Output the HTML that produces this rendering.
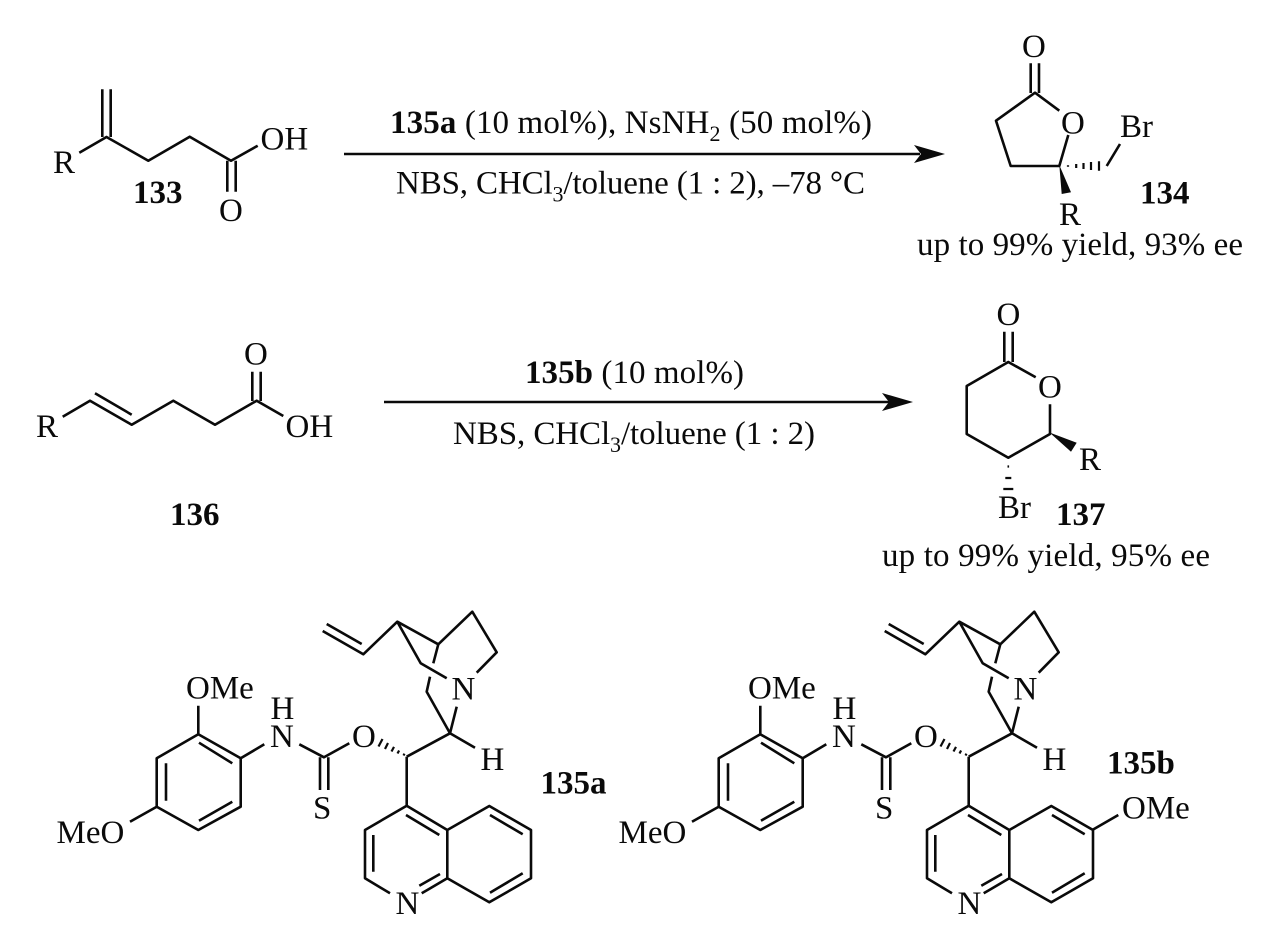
<!DOCTYPE html>
<html><head><meta charset="utf-8"><style>
html,body{margin:0;padding:0;background:#fff;width:1267px;height:926px;overflow:hidden}
svg{display:block}
text{font-family:"Liberation Serif","Times New Roman",serif;font-size:33px;fill:#0a0a0a}
.b{font-weight:bold}
path,line{stroke:#0a0a0a;stroke-width:2.6;fill:none;stroke-linejoin:round}
.f{fill:#0a0a0a;stroke:none}
.s{font-size:22px}
</style></head><body>
<svg width="1267" height="926" viewBox="0 0 1267 926" xmlns="http://www.w3.org/2000/svg">
<!-- 133 -->
<path d="M79.3 152.7L106.5 137L148.3 160.7L189.7 136.7L231 160.7L257.7 145.7"/>
<path d="M102.3 89.3V137M110.7 89.3V137M227.3 160.7V191.7M235.7 160.7V191.7"/>
<text x="53" y="173">R</text><text x="260.5" y="149.5">OH</text><text x="219" y="221">O</text>
<text class="b" x="133" y="203">133</text>
<!-- arrow 1 -->
<path d="M344 154H920"/><path class="f" d="M945 154L914 145L921 154L914 163Z"/>
<text x="390" y="133" textLength="482"><tspan class="b">135a</tspan> (10 mol%), NsNH<tspan class="s" dy="8">2</tspan><tspan dy="-8"> (50 mol%)</tspan></text>
<text x="396" y="193.5" textLength="469">NBS, CHCl<tspan class="s" dy="8">3</tspan><tspan dy="-8">/toluene (1 : 2), –78 °C</tspan></text>
<!-- 134 -->
<path d="M1059.3 110.7L1035 92.7L996 120.7L1010.7 166H1059.3L1068.3 135"/>
<path d="M1030.7 63.3V93M1039 63.3V93M1106.7 166L1120 144"/>
<path class="f" d="M1059.3 165L1061.7 194L1071 192.3Z"/>
<path d="M1068 165.2v1.6M1076.2 164v4M1083.5 163v6M1091 162v8M1099 161.3v9.4" style="stroke-width:2.2"/>
<text x="1022" y="57">O</text><text x="1061" y="133.5">O</text><text x="1120" y="137">Br</text>
<text x="1059" y="225">R</text><text class="b" x="1140" y="203.5">134</text>
<text x="917" y="255" textLength="326">up to 99% yield, 93% ee</text>
<!-- 136 -->
<path d="M62.7 416.7L90 400.7L131.7 424.7L173.3 400.7L215 424.7L256.7 400.7L283.3 416"/>
<path d="M95 393.3L131.7 414.7M252.3 371.7V401M260.7 371.7V401"/>
<text x="36" y="437">R</text><text x="244" y="364.5">O</text><text x="285.5" y="437">OH</text>
<text class="b" x="170" y="525">136</text>
<!-- arrow 2 -->
<path d="M384 402H890"/><path class="f" d="M913 402L882 393L889 402L882 411Z"/>
<text x="525" y="383" textLength="219"><tspan class="b">135b</tspan> (10 mol%)</text>
<text x="453" y="444" textLength="362">NBS, CHCl<tspan class="s" dy="8">3</tspan><tspan dy="-8">/toluene (1 : 2)</tspan></text>
<!-- 137 -->
<path d="M1035.7 377.3L1008.3 362L966.7 386V434L1008.3 457.7L1050 434V404.3"/>
<path d="M1004.3 331.7V362M1012.7 331.7V362"/>
<path class="f" d="M1049.5 432.5L1076.7 442.7L1071 451.7Z"/>
<path d="M1007.5 466.5h1.6M1005.3 478h6M1003.3 489h10" style="stroke-width:2.2"/>
<text x="996.5" y="325">O</text><text x="1038" y="397.5">O</text><text x="1079" y="470">R</text>
<text x="998" y="518">Br</text><text class="b" x="1056" y="525">137</text>
<text x="882" y="566" textLength="328">up to 99% yield, 95% ee</text>
<!-- 135a -->
<g>
<path d="M198.3 705.7V734.3L240.7 758.3V806.7L198.3 830L156.7 806.7V758.3L198.3 734.3"/>
<path d="M199 742.7L232.3 763.3M232.3 801.7L199 820.7M166 763.3V800.7M156.7 806.7L130 821.7M240.7 758.3L264.3 744.3"/>
<path d="M299.3 744.3L324 757.3L349.3 743.3M320 757.3V790M328.3 757.3V790"/>
<path d="M406.7 756.7L450 733.3L475 747.7M406.7 756.7V805.7M450 733.3L456.7 706.7M450 733.3L426.7 691.7L430 676.7M433.3 663.3L438.3 644.3"/>
<path d="M326.7 624L361.7 644M322.7 631L363.3 654.3L397.3 621.7L438.3 644.3L472.3 611.7L496.7 652.3L476.7 672.7M397.3 621.7L420.7 663.3L446.7 678.3"/>
<path d="M403.5 755.5l1 -1.8M397.5 753.5l1.6 -3M391.5 751.5l2.5 -4.6M385 749l3 -6M378.5 746.5l4 -7.5" style="stroke-width:2.2"/>
<path d="M406.7 805.7L365 830V878.3L390 893.3M421.7 893.3L447.3 878.3V830L406.7 805.7M447.3 830L489.3 806L531 830V878.3L489.3 902.3L447.3 878.3"/>
<path d="M406 815L439.3 835M373.3 835V871.7M419.3 885.7L440 874M490 815L522.7 834.3M522.7 873.3L490 892.7"/>
<text x="186" y="698.5">OMe</text><text x="56.5" y="843">MeO</text>
<text x="270.5" y="719">H</text><text x="270" y="747">N</text>
<text x="352" y="747">O</text><text x="313" y="818.5">S</text>
<text x="451.5" y="699.5">N</text><text x="480.5" y="770">H</text><text x="395.5" y="914">N</text>
</g>
<text class="b" x="540.5" y="793.5">135a</text>
<!-- 135b -->
<g transform="translate(562 0)">
<path d="M198.3 705.7V734.3L240.7 758.3V806.7L198.3 830L156.7 806.7V758.3L198.3 734.3"/>
<path d="M199 742.7L232.3 763.3M232.3 801.7L199 820.7M166 763.3V800.7M156.7 806.7L130 821.7M240.7 758.3L264.3 744.3"/>
<path d="M299.3 744.3L324 757.3L349.3 743.3M320 757.3V790M328.3 757.3V790"/>
<path d="M406.7 756.7L450 733.3L475 747.7M406.7 756.7V805.7M450 733.3L456.7 706.7M450 733.3L426.7 691.7L430 676.7M433.3 663.3L438.3 644.3"/>
<path d="M326.7 624L361.7 644M322.7 631L363.3 654.3L397.3 621.7L438.3 644.3L472.3 611.7L496.7 652.3L476.7 672.7M397.3 621.7L420.7 663.3L446.7 678.3"/>
<path d="M403.5 755.5l1 -1.8M397.5 753.5l1.6 -3M391.5 751.5l2.5 -4.6M385 749l3 -6M378.5 746.5l4 -7.5" style="stroke-width:2.2"/>
<path d="M406.7 805.7L365 830V878.3L390 893.3M421.7 893.3L447.3 878.3V830L406.7 805.7M447.3 830L489.3 806L531 830V878.3L489.3 902.3L447.3 878.3"/>
<path d="M406 815L439.3 835M373.3 835V871.7M419.3 885.7L440 874M490 815L522.7 834.3M522.7 873.3L490 892.7M530.3 830L556.3 815"/>
<text x="186" y="698.5">OMe</text><text x="56.5" y="843">MeO</text>
<text x="270.5" y="719">H</text><text x="270" y="747">N</text>
<text x="352" y="747">O</text><text x="313" y="818.5">S</text>
<text x="451.5" y="699.5">N</text><text x="480.5" y="770">H</text><text x="395.5" y="914">N</text>
<text x="560" y="818.5">OMe</text>
</g>
<text class="b" x="1107" y="773.5">135b</text>
</svg>
</body></html>
